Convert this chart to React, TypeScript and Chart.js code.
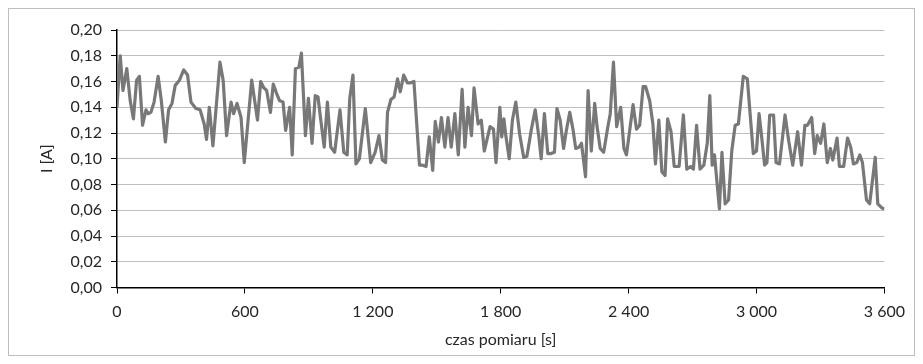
import React, { useEffect, useRef } from "react";
import { Chart, registerables } from "chart.js";

Chart.register(...registerables);

// measurement time [s]
const times: number[] = [
  0, 15, 28, 46, 62, 77, 92, 105, 120, 136, 146, 159, 174, 193, 208, 227, 242, 258, 273, 293,
  313, 331, 347, 370, 390, 409, 420, 433, 450, 483, 498, 514, 535, 547, 563, 582, 597,
  632, 659, 674, 689, 702, 720, 733, 748, 763, 779, 791, 810, 822, 837, 853, 865, 884, 898,
  915, 930, 943, 956, 972, 987, 1003, 1021, 1046, 1064, 1080, 1092, 1107, 1121, 1137, 1165, 1190,
  1211, 1229, 1245, 1260, 1269, 1285, 1300, 1316, 1329, 1345, 1362, 1377, 1393, 1419, 1434, 1450,
  1465, 1481, 1493, 1508, 1522, 1538, 1553, 1568, 1585, 1601, 1619, 1632, 1647, 1663, 1675, 1694,
  1709, 1723, 1750, 1766, 1778, 1796,
  1805, 1815, 1824, 1840, 1855, 1871, 1889, 1908, 1923, 1943, 1962, 1979, 1990, 2005, 2021, 2036,
  2052, 2064, 2079, 2095, 2108, 2124, 2139, 2152, 2167, 2179, 2198, 2210, 2225, 2241, 2252, 2267,
  2283, 2303, 2314, 2329, 2344, 2363, 2378, 2390,
  2421, 2437, 2452, 2468, 2480, 2499, 2514, 2526, 2542, 2556, 2571, 2583, 2599, 2614, 2637, 2657,
  2673, 2691, 2704, 2719, 2735, 2753, 2769, 2781, 2792, 2803, 2826, 2838, 2853, 2869, 2884, 2900,
  2915, 2938, 2957, 2985,
  3000, 3012, 3023, 3038, 3049, 3062, 3080, 3092, 3108, 3134, 3151, 3170, 3193, 3211, 3227, 3239,
  3259, 3273, 3285, 3301, 3316, 3332, 3347, 3358, 3378, 3389, 3409, 3427, 3442, 3455, 3470, 3485,
  3497, 3516, 3531, 3557, 3569, 3587, 3600,
];

// current I [A]
const currents: number[] = [
  0.140, 0.180, 0.153, 0.170, 0.145, 0.131, 0.161, 0.164, 0.126, 0.138, 0.135, 0.136, 0.144, 0.164, 0.145, 0.113, 0.138, 0.143, 0.157, 0.161,
  0.169, 0.165, 0.144, 0.139, 0.138, 0.127, 0.115, 0.140, 0.110, 0.175, 0.161, 0.118, 0.144, 0.135, 0.143, 0.132, 0.097,
  0.161, 0.130, 0.160, 0.155, 0.153, 0.136, 0.158, 0.151, 0.145, 0.144, 0.122, 0.140, 0.103, 0.170, 0.171, 0.182, 0.118, 0.147,
  0.112, 0.149, 0.148, 0.130, 0.109, 0.144, 0.109, 0.105, 0.138, 0.105, 0.103, 0.147, 0.165, 0.096, 0.100, 0.139, 0.097,
  0.105, 0.118, 0.099, 0.097, 0.136, 0.146, 0.148, 0.162, 0.152, 0.165, 0.159, 0.159, 0.160, 0.095, 0.095, 0.094,
  0.117, 0.091, 0.129, 0.113, 0.132, 0.109, 0.132, 0.109, 0.135, 0.103, 0.154, 0.109, 0.140, 0.118, 0.155, 0.127,
  0.130, 0.106, 0.125, 0.123, 0.097, 0.140,
  0.117, 0.131, 0.118, 0.100, 0.130, 0.144, 0.119, 0.101, 0.102, 0.122, 0.138, 0.117, 0.100, 0.135, 0.104, 0.104,
  0.105, 0.139, 0.130, 0.108, 0.122, 0.136, 0.123, 0.108, 0.109, 0.112, 0.086, 0.153, 0.106, 0.143, 0.125, 0.108,
  0.105, 0.125, 0.135, 0.175, 0.125, 0.140, 0.108, 0.103,
  0.142, 0.123, 0.126, 0.156, 0.156, 0.145, 0.127, 0.096, 0.130, 0.090, 0.087, 0.131, 0.121, 0.094, 0.094, 0.134,
  0.092, 0.094, 0.092, 0.126, 0.092, 0.095, 0.112, 0.149, 0.095, 0.103, 0.061, 0.105, 0.065, 0.068, 0.106, 0.126,
  0.127, 0.164, 0.162, 0.104,
  0.106, 0.135, 0.119, 0.095, 0.097, 0.134, 0.134, 0.097, 0.096, 0.134, 0.114, 0.095, 0.121, 0.095, 0.126, 0.126,
  0.132, 0.104, 0.118, 0.112, 0.127, 0.097, 0.108, 0.099, 0.116, 0.094, 0.094, 0.116, 0.109, 0.096, 0.097, 0.103,
  0.097, 0.068, 0.065, 0.101, 0.065, 0.062, 0.061,
];

const xTicks: number[] = [0, 600, 1200, 1800, 2400, 3000, 3600];
const yTicks: number[] = [0, 0.02, 0.04, 0.06, 0.08, 0.1, 0.12, 0.14, 0.16, 0.18, 0.2];

const xTitle = "czas pomiaru [s]";
const yTitle = "I [A]";

const fmtX = (v: number) => String(Math.round(v)).replace(/\B(?=(\d{3})+(?!\d))/g, " ");
const fmtY = (v: number) => v.toFixed(2).replace(".", ",");

export default function App() {
  const ref = useRef<HTMLCanvasElement | null>(null);

  useEffect(() => {
    if (!ref.current) return;
    const font = { family: "Lato", size: 16 };
    const textColor = "#262626";
    const chart = new Chart(ref.current, {
      type: "line",
      data: {
        datasets: [
          {
            data: times.map((t, i) => ({ x: t, y: currents[i] })),
            borderColor: "#787878",
            borderWidth: 3.2,
            pointRadius: 0,
            tension: 0,
            borderJoinStyle: "round",
            fill: false,
          },
        ],
      },
      options: {
        animation: false,
        responsive: false,
        layout: { padding: { left: 0, right: 19, top: 21, bottom: 0 } },
        plugins: { legend: { display: false }, tooltip: { enabled: false } },
        scales: {
          x: {
            type: "linear",
            min: 0,
            max: 3600,
            afterBuildTicks: (s: any) => {
              s.ticks = xTicks.map((v) => ({ value: v }));
            },
            ticks: {
              callback: (v: any) => fmtX(Number(v)),
              color: textColor,
              font,
              padding: 9,
              maxRotation: 0,
              autoSkip: false,
            },
            grid: { drawOnChartArea: false, drawTicks: true, tickLength: 6, color: "#000", lineWidth: 1 },
            border: { display: true, color: "#000", width: 1.5 },
            title: { display: true, text: xTitle, color: textColor, font, padding: { top: 0, bottom: 6 } },
            afterFit: (s: any) => {
              s.height = 67.5;
            },
          },
          y: {
            type: "linear",
            min: 0,
            max: 0.2,
            afterBuildTicks: (s: any) => {
              s.ticks = yTicks.map((v) => ({ value: v }));
            },
            ticks: {
              callback: (v: any) => fmtY(Number(v)),
              color: textColor,
              font,
              padding: 9,
              autoSkip: false,
            },
            grid: { color: "#bfbfbf", lineWidth: 1, tickColor: "#000", tickLength: 6, drawTicks: true },
            border: { display: true, color: "#000", width: 1.5 },
            title: { display: true, text: yTitle, color: textColor, font, padding: { top: 28, bottom: 0 } },
            afterFit: (s: any) => {
              s.width = 108;
            },
          },
        },
      },
    } as any);
    return () => chart.destroy();
  }, []);

  return (
    <div
      style={{
        width: 907,
        height: 348,
        border: "1px solid #bdbdbd",
        boxSizing: "border-box",
        background: "#fff",
      }}
    >
      <canvas ref={ref} width={905} height={346} style={{ display: "block" }} />
    </div>
  );
}
